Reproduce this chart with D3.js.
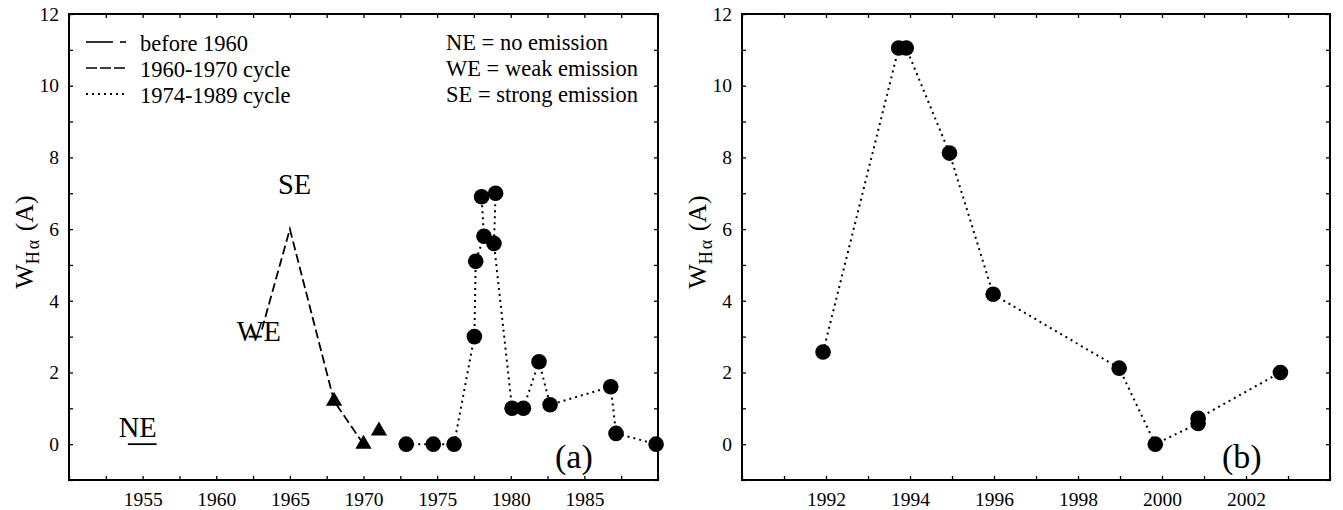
<!DOCTYPE html>
<html>
<head>
<meta charset="utf-8">
<script src="https://cdn.jsdelivr.net/npm/d3@7"></script>
<style>
  html, body { margin: 0; padding: 0; background: #fff; }
  svg { display: block; }
  text { font-family: "Liberation Serif", "DejaVu Serif", serif; fill: #000; }
</style>
</head>
<body>
<svg id="chart" width="1343" height="510"></svg>
<script>
// ---------- DATA ----------
// Panel (a)
const yMajorTicks = [0, 2, 4, 6, 8, 10, 12];
const yMinorTicks = [-1, 0, 1, 2, 3, 4, 5, 6, 7, 8, 9, 10, 11, 12];
const aXLabels = [1955, 1960, 1965, 1970, 1975, 1980, 1985];
const aXTicks = [1950, 1952.5, 1955, 1957.5, 1960, 1962.5, 1965, 1967.5, 1970, 1972.5, 1975, 1977.5, 1980, 1982.5, 1985, 1987.5, 1990];

// before 1960 (short horizontal markers)
const before1960 = [
  { x0: 1954.0, x1: 1955.95, y: 0.0 },
  { x0: 1962.2, x1: 1963.1, y: 3.0 }
];
// 1960-1970 cycle (dashed line)
const cycle1960Years = [1963.1, 1965.0, 1968.0, 1970.0];
const cycle1960Values = [3.2, 6.0, 1.2, 0.0];
// triangles
const triYears = [1968.0, 1970.0, 1971.05];
const triValues = [1.2, 0.0, 0.37];
// 1974-1989 cycle (dotted line, circles)
const cycle1974Years = [1972.9, 1974.74, 1976.15, 1977.53, 1977.62, 1978.18, 1978.02, 1978.97, 1978.86, 1980.09, 1980.86, 1981.92, 1982.67, 1986.79, 1987.15, 1989.87];
const cycle1974Values = [0.0, 0.0, 0.0, 3.0, 5.1, 5.8, 6.9, 7.0, 5.6, 1.0, 1.0, 2.3, 1.1, 1.6, 0.3, 0.0];

// Panel (b)
const bXLabels = [1992, 1994, 1996, 1998, 2000, 2002];
const bXTicks = [1990, 1991, 1992, 1993, 1994, 1995, 1996, 1997, 1998, 1999, 2000, 2001, 2002, 2003, 2004];
const bYears = [1991.93, 1993.73, 1993.91, 1994.94, 1995.98, 1998.98, 1999.84, 2000.86, 2000.86, 2002.82];
const bValues = [2.57, 11.05, 11.05, 8.12, 4.18, 2.12, 0.0, 0.58, 0.72, 2.0];

const legendLabels = ["before 1960", "1960-1970 cycle", "1974-1989 cycle"];
const noteLabels = ["NE = no emission", "WE = weak emission", "SE = strong emission"];

// ---------- LAYOUT ----------
const svg = d3.select("#chart");
const plotTop = 14, plotBottom = 480;
const y = d3.scaleLinear().domain([-1, 12]).range([plotBottom, plotTop]);

function frame(g, x, xTicks, xLabels, left, right) {
  const tick = 4;
  g.append("g").attr("transform", `translate(0,${plotBottom})`)
    .call(d3.axisBottom(x).tickValues(xTicks).tickSize(-tick).tickPadding(12.5)
      .tickFormat(d => xLabels.includes(d) ? String(d) : ""))
    .call(s => { s.select(".domain").remove(); s.selectAll("text").style("font-size", "19.5px").attr("font-family", "Liberation Serif"); s.selectAll("line").attr("stroke-width", 1.3); });
  g.append("g").attr("transform", `translate(0,${plotTop})`)
    .call(d3.axisTop(x).tickValues(xTicks).tickSize(-tick).tickFormat(""))
    .call(s => { s.select(".domain").remove(); s.selectAll("line").attr("stroke-width", 1.3); });
  g.append("g").attr("transform", `translate(${left},0)`)
    .call(d3.axisLeft(y).tickValues(yMinorTicks).tickSize(-tick).tickPadding(10)
      .tickFormat(d => yMajorTicks.includes(d) ? String(d) : ""))
    .call(s => { s.select(".domain").remove(); s.selectAll("text").style("font-size", "19.5px").attr("font-family", "Liberation Serif"); s.selectAll("line").attr("stroke-width", 1.3); });
  g.append("g").attr("transform", `translate(${right},0)`)
    .call(d3.axisRight(y).tickValues(yMinorTicks).tickSize(-tick).tickFormat(""))
    .call(s => { s.select(".domain").remove(); s.selectAll("line").attr("stroke-width", 1.3); });
  g.append("rect").attr("x", left).attr("y", plotTop).attr("width", right - left).attr("height", plotBottom - plotTop)
    .attr("fill", "none").attr("stroke", "#000").attr("stroke-width", 2);
}

function yLabel(g, xPos) {
  const t = g.append("text").attr("transform", `translate(${xPos},242) rotate(-90)`)
    .attr("text-anchor", "middle").style("font-size", "26px");
  t.append("tspan").text("W");
  t.append("tspan").attr("dy", 6).style("font-size", "18px").attr("letter-spacing", "2px").text("Hα");
  t.append("tspan").attr("dy", -6).text(" (A)");
}

// ---------- PANEL A ----------
const aLeft = 69, aRight = 658;
const xa = d3.scaleLinear().domain([1950, 1990]).range([aLeft, aRight]);
const ga = svg.append("g");
frame(ga, xa, aXTicks, aXLabels, aLeft, aRight);
yLabel(ga, 33);

ga.selectAll(".b1960").data(before1960).join("line")
  .attr("x1", d => xa(d.x0)).attr("x2", d => xa(d.x1))
  .attr("y1", d => y(d.y)).attr("y2", d => y(d.y))
  .attr("stroke", "#000").attr("stroke-width", 1.8);

const line = d3.line();
ga.append("path")
  .attr("d", line(cycle1960Years.map((yr, i) => [xa(yr), y(cycle1960Values[i])])))
  .attr("fill", "none").attr("stroke", "#000").attr("stroke-width", 1.8).attr("stroke-dasharray", "9,4");

ga.append("path")
  .attr("d", line(cycle1974Years.map((yr, i) => [xa(yr), y(cycle1974Values[i])])))
  .attr("fill", "none").attr("stroke", "#000").attr("stroke-width", 2).attr("stroke-dasharray", "2,4");

ga.selectAll(".tri").data(triYears).join("path")
  .attr("d", d3.symbol(d3.symbolTriangle, 115))
  .attr("transform", (d, i) => `translate(${xa(d)},${y(triValues[i])})`)
  .attr("fill", "#000");

ga.selectAll(".dot").data(cycle1974Years).join("circle")
  .attr("cx", d => xa(d)).attr("cy", (d, i) => y(cycle1974Values[i])).attr("r", 7.8)
  .attr("fill", "#000");

ga.append("text").attr("x", xa(1955) - 24).attr("y", y(0) - 7).style("font-size", "28.5px").text("NE");
ga.append("text").attr("x", xa(1962.2) - 12).attr("y", y(3.0) + 4).style("font-size", "28.5px").text("WE");
ga.append("text").attr("x", xa(1965) - 12).attr("y", y(6.0) - 35).style("font-size", "28.5px").text("SE");
ga.append("text").attr("x", 555).attr("y", 468).style("font-size", "34px").text("(a)");

const legRows = [51, 77, 103];
legendLabels.forEach((lab, i) => {
  ga.append("text").attr("x", 140).attr("y", legRows[i]).style("font-size", "22.5px").text(lab);
});
const ly = legRows.map(v => v - 9);
ga.append("line").attr("x1", 86).attr("x2", 113).attr("y1", ly[0]).attr("y2", ly[0]).attr("stroke", "#000").attr("stroke-width", 1.6);
ga.append("line").attr("x1", 120).attr("x2", 126).attr("y1", ly[0]).attr("y2", ly[0]).attr("stroke", "#000").attr("stroke-width", 1.6);
ga.append("line").attr("x1", 86).attr("x2", 126).attr("y1", ly[1]).attr("y2", ly[1]).attr("stroke", "#000").attr("stroke-width", 1.6).attr("stroke-dasharray", "11,3");
ga.append("line").attr("x1", 86).attr("x2", 126).attr("y1", ly[2]).attr("y2", ly[2]).attr("stroke", "#000").attr("stroke-width", 1.8).attr("stroke-dasharray", "2,4");

noteLabels.forEach((lab, i) => {
  ga.append("text").attr("x", 446).attr("y", legRows[i] - 1).style("font-size", "22.5px").text(lab);
});

// ---------- PANEL B ----------
const bLeft = 742, bRight = 1330;
const xb = d3.scaleLinear().domain([1990, 2004]).range([bLeft, bRight]);
const gb = svg.append("g");
frame(gb, xb, bXTicks, bXLabels, bLeft, bRight);
yLabel(gb, 706);

gb.append("path")
  .attr("d", line(bYears.map((yr, i) => [xb(yr), y(bValues[i])])))
  .attr("fill", "none").attr("stroke", "#000").attr("stroke-width", 2).attr("stroke-dasharray", "2,4");
gb.selectAll(".dot").data(bYears).join("circle")
  .attr("cx", d => xb(d)).attr("cy", (d, i) => y(bValues[i])).attr("r", 7.8)
  .attr("fill", "#000");
gb.append("text").attr("x", 1222).attr("y", 468).style("font-size", "34px").text("(b)");
</script>
</body>
</html>
